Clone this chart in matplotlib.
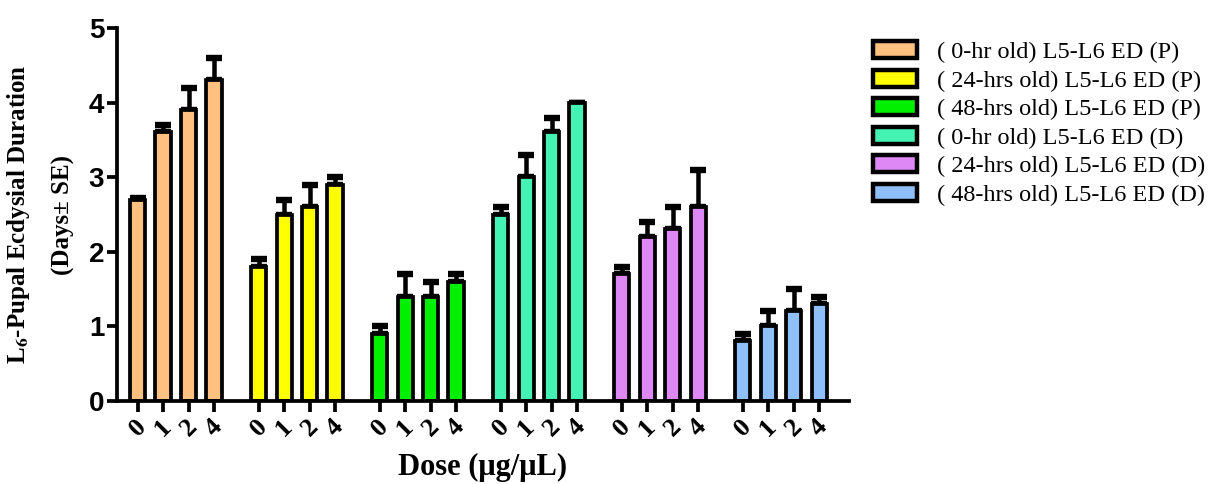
import numpy as np
import matplotlib
matplotlib.use("Agg")
from matplotlib import pyplot as plt
from matplotlib.patches import Patch

plt.rcParams['mathtext.fontset'] = 'stix'

doses = ["0", "1", "2", "4"]
labels = ["( 0-hr old) L5-L6 ED (P)", "( 24-hrs old) L5-L6 ED (P)", "( 48-hrs old) L5-L6 ED (P)",
          "( 0-hr old) L5-L6 ED (D)", "( 24-hrs old) L5-L6 ED (D)", "( 48-hrs old) L5-L6 ED (D)"]
colors = ["#FFC080", "#FFFF00", "#00F000", "#44F2B4", "#DD88F5", "#8FBFF8"]

means = [
    [2.7, 3.6, 3.9, 4.3],
    [1.8, 2.5, 2.6, 2.9],
    [0.9, 1.4, 1.4, 1.6],
    [2.5, 3.0, 3.6, 4.0],
    [1.7, 2.2, 2.3, 2.6],
    [0.8, 1.0, 1.2, 1.3],
]
errs = [
    [0.02, 0.1, 0.3, 0.3],
    [0.1, 0.2, 0.3, 0.1],
    [0.1, 0.3, 0.2, 0.1],
    [0.1, 0.3, 0.2, 0.0],
    [0.1, 0.2, 0.3, 0.5],
    [0.1, 0.2, 0.3, 0.1],
]

fig = plt.figure(figsize=(12.29, 4.84), dpi=100)
ax = fig.add_axes([0.095, 0.1715, 0.596, 0.7705])

lw = 2.7
step = 4.75
ticks = []
ticklabels = []
for g in range(6):
    x = np.arange(4) + g * step
    e = np.array(errs[g])
    ax.bar(x, means[g], width=0.6, color=colors[g], edgecolor="black", linewidth=lw, zorder=2)
    ax.errorbar(x, means[g], yerr=[np.zeros(4), e], fmt="none", ecolor="black",
                elinewidth=lw * 1.2, capsize=6, capthick=lw * 1.7, zorder=1)
    ticks += list(x)
    ticklabels += doses

ax.set_xlim(-0.82, 5 * step + 3 + 1.18)
ax.set_ylim(0, 5)
ax.set_yticks([0, 1, 2, 3, 4, 5])
ax.set_yticklabels(["0", "1", "2", "3", "4", "5"], fontsize=20, fontweight="bold",
                   family="Liberation Sans")
ax.set_xticks(ticks)
ax.set_xticklabels(ticklabels, rotation=45, fontsize=19, fontweight="bold",
                   family="Liberation Serif", ha="center")
ax.tick_params(axis="both", width=lw, length=7, direction="out")
ax.tick_params(axis="y", pad=2)
ax.tick_params(axis="x", length=8, pad=2)

for s in ["top", "right"]:
    ax.spines[s].set_visible(False)
for s in ["left", "bottom"]:
    ax.spines[s].set_linewidth(lw)

ax.set_xlabel("Dose (\u03bcg/\u03bcL)", fontsize=22, fontweight="bold", family="Liberation Serif",
              labelpad=9)
ax.set_ylabel("L$_{\\mathbf{6}}$-Pupal Ecdysial Duration\n(Days\u00b1 SE)", fontsize=18,
              fontweight="bold", family="Liberation Serif", linespacing=2.1, labelpad=10)

handles = [Patch(facecolor=c, edgecolor="black", linewidth=lw + 0.5) for c in colors]
fig.legend(handles, labels, loc="upper left", bbox_to_anchor=(873 / 1229, 1 - 41 / 484),
           frameon=False, borderpad=0, borderaxespad=0,
           prop={"family": "Liberation Serif", "size": 17.5}, handlelength=1.8,
           handleheight=0.7, handletextpad=0.82, labelspacing=0.27)

fig.savefig("out.png", dpi=100)
